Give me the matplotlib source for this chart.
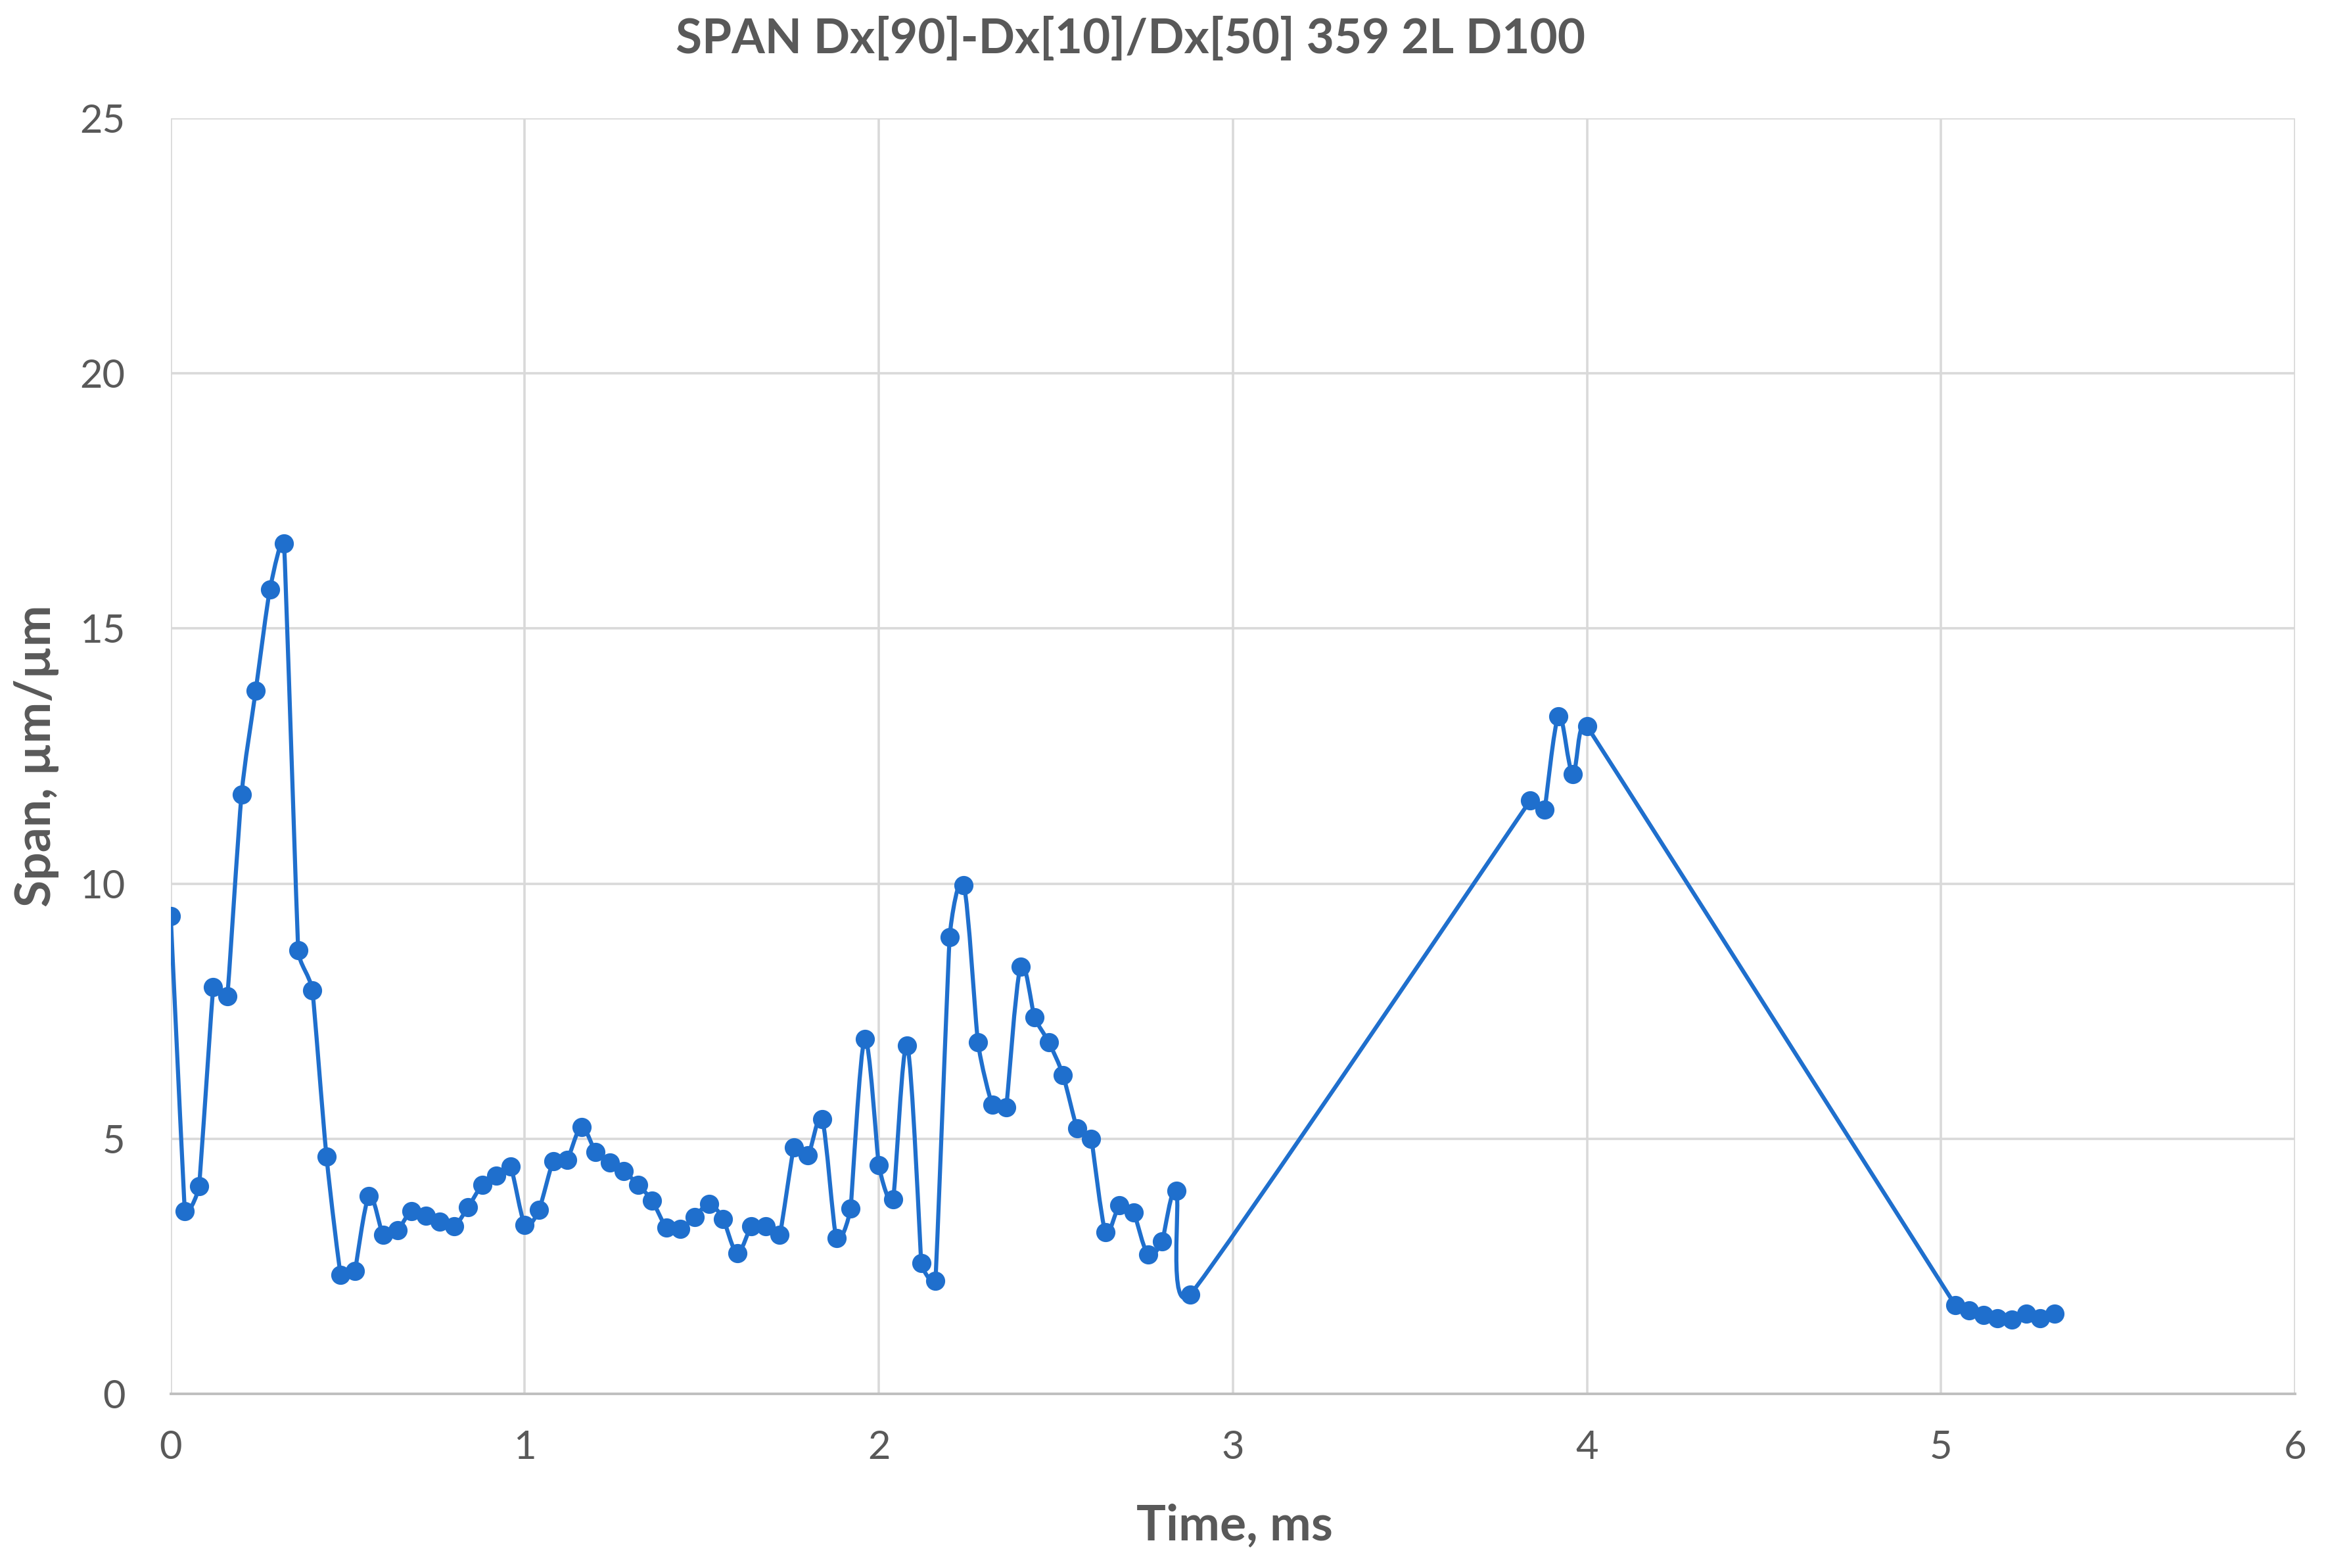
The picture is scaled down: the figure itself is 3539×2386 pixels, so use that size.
import numpy as np
import matplotlib
matplotlib.use("Agg")
import matplotlib.pyplot as plt
from matplotlib.path import Path
from matplotlib.patches import PathPatch

# ---------------- data ----------------
time_ms = [0.00, 0.04, 0.08, 0.12, 0.16, 0.20, 0.24, 0.28, 0.32, 0.36,
           0.40, 0.44, 0.48, 0.52, 0.56, 0.60, 0.64, 0.68, 0.72, 0.76,
           0.80, 0.84, 0.88, 0.92, 0.96, 1.00, 1.04, 1.08, 1.12, 1.16,
           1.20, 1.24, 1.28, 1.32, 1.36, 1.40, 1.44, 1.48, 1.52, 1.56,
           1.60, 1.64, 1.68, 1.72, 1.76, 1.80, 1.84, 1.88, 1.92, 1.96,
           2.00, 2.04, 2.08, 2.12, 2.16, 2.20, 2.24, 2.28, 2.32, 2.36,
           2.40, 2.44, 2.48, 2.52, 2.56, 2.60, 2.64, 2.68, 2.72, 2.76,
           2.80, 2.84, 2.88,
           3.84, 3.88, 3.92, 3.96, 4.00,
           5.04, 5.08, 5.12, 5.16, 5.20, 5.24, 5.28, 5.32]

span = [9.36, 3.58, 4.07, 7.97, 7.79, 11.74, 13.78, 15.76, 16.66, 8.69,
        7.91, 4.65, 2.33, 2.41, 3.87, 3.11, 3.20, 3.58, 3.49, 3.37,
        3.28, 3.66, 4.10, 4.27, 4.45, 3.31, 3.60, 4.56, 4.59, 5.23,
        4.74, 4.53, 4.36, 4.10, 3.78, 3.26, 3.23, 3.46, 3.72, 3.43,
        2.76, 3.28, 3.28, 3.11, 4.83, 4.68, 5.38, 3.05, 3.63, 6.95,
        4.48, 3.81, 6.83, 2.56, 2.21, 8.95, 9.97, 6.89, 5.67, 5.61,
        8.37, 7.38, 6.89, 6.25, 5.20, 5.00, 3.17, 3.69, 3.55, 2.73,
        2.99, 3.98, 1.95,
        11.63, 11.45, 13.28, 12.15, 13.08,
        1.74, 1.63, 1.54, 1.48, 1.45, 1.57, 1.48, 1.57]

x_ticks = [0, 1, 2, 3, 4, 5, 6]
y_ticks = [0, 5, 10, 15, 20, 25]

title = "SPAN Dx[90]-Dx[10]/Dx[50] 359 2L D100"
x_label = "Time, ms"
y_label = "Span, µm/µm"

# ---------------- style ----------------
LINE_COLOR = "#1F6FCD"
TEXT_COLOR = "#595959"
GRID_COLOR = "#D9D9D9"
FONT = ["Lato", "DejaVu Sans"]
plt.rcParams["font.family"] = FONT

W, H, DPI = 3539, 2386, 100
fig = plt.figure(figsize=(W / DPI, H / DPI), dpi=DPI)
ax = fig.add_axes([0.0734, 0.1111, 0.9133, 0.8135])

ax.set_xlim(0, 6)
ax.set_ylim(0, 25)
ax.set_xticks(x_ticks)
ax.set_yticks(y_ticks)
ax.set_xticklabels([str(t) for t in x_ticks])
ax.set_yticklabels([str(t) for t in y_ticks])

ax.grid(True, color=GRID_COLOR, linewidth=2.6, zorder=0)
ax.set_axisbelow(True)
for s in ["top", "right", "left"]:
    ax.spines[s].set_visible(False)
ax.spines["bottom"].set_color("#BFBFBF")
ax.spines["bottom"].set_linewidth(2.8)
ax.tick_params(axis="both", length=0, labelsize=43, colors=TEXT_COLOR)
ax.tick_params(axis="x", pad=40)
ax.tick_params(axis="y", pad=50)

# smoothed line: Catmull-Rom style cubic Bezier (pixel space), with the
# tangent handles limited by the shorter adjacent chord to avoid loops
xs = np.asarray(time_ms, dtype=float)
ys = np.asarray(span, dtype=float)
pts = ax.transData.transform(np.column_stack([xs, ys]))
n = len(pts)
S = 1.0 / 3.0


def handle(prev_pt, cur, nxt):
    h = (nxt - prev_pt) / 6.0
    lh = np.hypot(*h)
    if lh == 0:
        return h
    cap = S * min(np.hypot(*(cur - prev_pt)), np.hypot(*(nxt - cur)))
    if lh > cap:
        h = h * (cap / lh)
    return h


verts = [tuple(pts[0])]
codes = [Path.MOVETO]
for i in range(n - 1):
    p0 = pts[i - 1] if i > 0 else pts[i]
    p1 = pts[i]
    p2 = pts[i + 1]
    p3 = pts[i + 2] if i + 2 < n else pts[i + 1]
    c1 = p1 + handle(p0, p1, p2)
    c2 = p2 - handle(p1, p2, p3)
    verts += [tuple(c1), tuple(c2), tuple(p2)]
    codes += [Path.CURVE4, Path.CURVE4, Path.CURVE4]
inv = ax.transData.inverted()
verts_data = inv.transform(np.array(verts))
path = Path(verts_data, codes)
ax.add_patch(PathPatch(path, facecolor="none", edgecolor=LINE_COLOR,
                       linewidth=4.5, zorder=3, capstyle="round",
                       joinstyle="round"))
ax.plot(xs, ys, linestyle="none", marker="o", markersize=20,
        markerfacecolor=LINE_COLOR, markeredgecolor=LINE_COLOR, zorder=4)

fig.text(0.486, 0.975, title, ha="center", va="center", fontsize=52.5,
         fontweight="bold", color=TEXT_COLOR)
fig.text(0.5307, 0.027, x_label, ha="center", va="center", fontsize=54,
         fontweight="bold", color=TEXT_COLOR)
fig.text(0.0158, 0.518, y_label, ha="center", va="center", fontsize=54,
         fontweight="bold", color=TEXT_COLOR, rotation=90)

fig.savefig("out.png", dpi=DPI, facecolor="white")
